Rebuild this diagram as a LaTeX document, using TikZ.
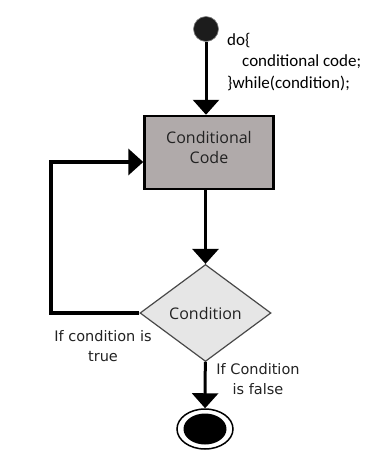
\documentclass[tikz,border=0pt]{standalone}
\usepackage{xcolor}
\usepackage{fontspec}
\usepackage{tikz}
\usetikzlibrary{arrows.meta,shapes.geometric}
\setmainfont{Carlito}
\newfontfamily\labelfont{DejaVu Sans}
\newfontfamily\boxfont{Open Sans}
\definecolor{boxgray}{HTML}{B0AAAA}
\definecolor{condgray}{HTML}{E6E6E6}
\definecolor{inkdark}{HTML}{1C1C1C}
\definecolor{textc}{HTML}{222222}

\begin{document}
\begin{tikzpicture}[x=1pt, y=-1pt,
    flow/.style={line width=3pt, -{Triangle[length=15pt,width=26pt]}},
    codebox/.style={draw, line width=2.5pt, fill=boxgray, minimum width=129pt, minimum height=73pt},
    condbox/.style={diamond, draw=inkdark!80, line width=1.2pt, fill=condgray, inner sep=0pt,
      minimum width=131pt, minimum height=97pt, aspect=1.35, font=\boxfont\fontsize{16}{20}\selectfont, text=textc},
    note/.style={align=center, font=\labelfont\fontsize{14.5}{20}\selectfont, text=textc}]
    \useasboundingbox (0,0) rectangle (387,467);
    \node[circle, fill=inkdark, draw=gray, line width=0.6pt, minimum size=25pt, inner sep=0pt] (start) at (206,29) {};
    \node[align=left, anchor=north west, inner sep=0pt, font=\fontsize{17}{21.5}\selectfont] (code) at (227,33)
      {do\{\\\hspace*{15pt}conditional code;\\\}while(condition);};
    \node[codebox] (body) at (209,152.5) {};
    \node[align=center, font=\boxfont\fontsize{16}{20}\selectfont, text=textc] (bodytxt) at (209,147) {Conditional\\Code};
    \node[condbox] (cond) at (205.5,313) {Condition};
    \node[ellipse, draw, line width=1.5pt, minimum width=56pt, minimum height=40pt, inner sep=0pt] (stop) at (205,429) {};
    \node[ellipse, fill=black, minimum width=43pt, minimum height=31pt, inner sep=0pt] (stopdot) at (stop) {};
    \coordinate (loop) at (51,162);
    \draw[flow] (start) -- (start |- body.north);
    \draw[flow] (cond |- body.south) -- (cond);
    \draw[flow, line width=4pt] (cond.west) -| (loop) -- (body.west |- loop);
    \draw[flow] (cond) -- (stop);
    \node[note] (truelbl) at (103,346) {If condition is\\true};
    \node[note] (falselbl) at (258,379) {If Condition\\is false};
  \end{tikzpicture}
\end{document}
